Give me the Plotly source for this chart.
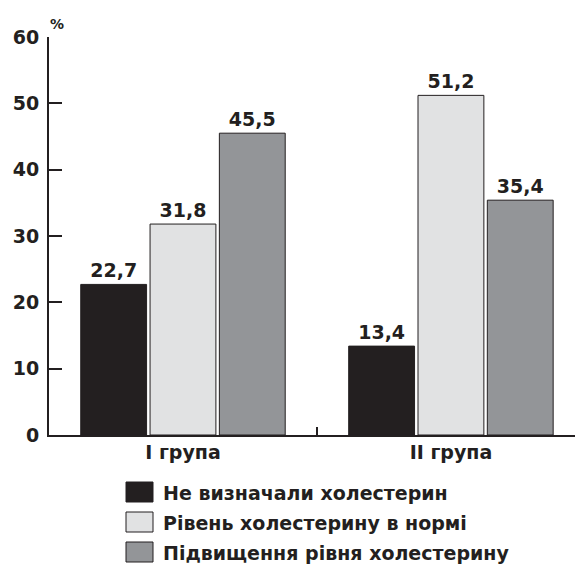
import plotly.graph_objects as go

categories = ["I група", "II група"]
series_names = ["Не визначали холестерин", "Рівень холестерину в нормі", "Підвищення рівня холестерину"]
not_measured = [22.7, 13.4]
normal_level = [31.8, 51.2]
elevated_level = [45.5, 35.4]
y_ticks = [0, 10, 20, 30, 40, 50, 60]

series_values = [not_measured, normal_level, elevated_level]
colors = ["#231f20", "#e1e2e3", "#939598"]
INK = "#231f20"
FONT = "DejaVu Sans"
FS = 19

W, H = 576, 565
# plot area in page pixels: x 49..575, y 37..435
ML, MR, MT, MB = 49, 1, 37, 130
PW, PH = W - ML - MR, H - MT - MB


def px_x(px):
    return (px - ML) / PW


def px_y(py):
    return (H - MB - py) / PH


fig = go.Figure()
for name, vals, col in zip(series_names, series_values, colors):
    fig.add_trace(go.Bar(
        x=categories, y=vals, name=name,
        marker=dict(color=col, line=dict(color=INK, width=1)),
        text=[f"{v:.1f}".replace(".", ",") for v in vals],
        textposition="outside",
        textfont=dict(family=FONT, size=FS, color=INK, weight="bold"),
        cliponaxis=False,
        showlegend=False,
    ))

shapes = []
annotations = []
# manual legend with large swatches
for i, (name, col) in enumerate(zip(series_names, colors)):
    top = 482 + 30 * i
    shapes.append(dict(
        type="rect", xref="paper", yref="paper",
        x0=px_x(126), x1=px_x(153), y0=px_y(top + 20), y1=px_y(top),
        fillcolor=col, line=dict(color=INK, width=1),
    ))
    annotations.append(dict(
        xref="paper", yref="paper", x=px_x(161), y=px_y(top + 11),
        xanchor="left", yanchor="middle", text=name, showarrow=False,
        font=dict(family=FONT, size=FS, color=INK, weight="bold"),
    ))

annotations.append(dict(
    xref="paper", yref="paper", x=px_x(57), y=px_y(24),
    xanchor="center", yanchor="middle", text="%", showarrow=False,
    font=dict(family=FONT, size=14, color=INK, weight="bold"),
))

fig.update_layout(
    width=W, height=H,
    margin=dict(l=ML, r=MR, t=MT, b=MB),
    paper_bgcolor="white", plot_bgcolor="white",
    barmode="group", bargap=0.224, bargroupgap=0.05,
    shapes=shapes, annotations=annotations,
    font=dict(family=FONT, color=INK),
)
fig.update_xaxes(
    type="category", range=[-0.5, 1.463],
    showline=True, linecolor=INK, linewidth=2,
    ticks="inside", tickson="boundaries", ticklen=8, tickwidth=2, tickcolor=INK,
    tickfont=dict(family=FONT, size=FS, color=INK, weight="bold"),
    showgrid=False, zeroline=False, ticklabelstandoff=-1,
)
fig.update_yaxes(
    range=[0, 60], tickvals=y_ticks,
    showline=True, linecolor=INK, linewidth=2,
    ticks="inside", ticklen=13, tickwidth=2, tickcolor=INK,
    tickfont=dict(family=FONT, size=FS, color=INK, weight="bold"),
    showgrid=False, zeroline=False, ticklabelstandoff=4,
)

fig.write_html(
    "out.html",
    config={"displayModeBar": False},
    post_script="document.body.style.margin='0';document.body.style.overflow='hidden';",
)
